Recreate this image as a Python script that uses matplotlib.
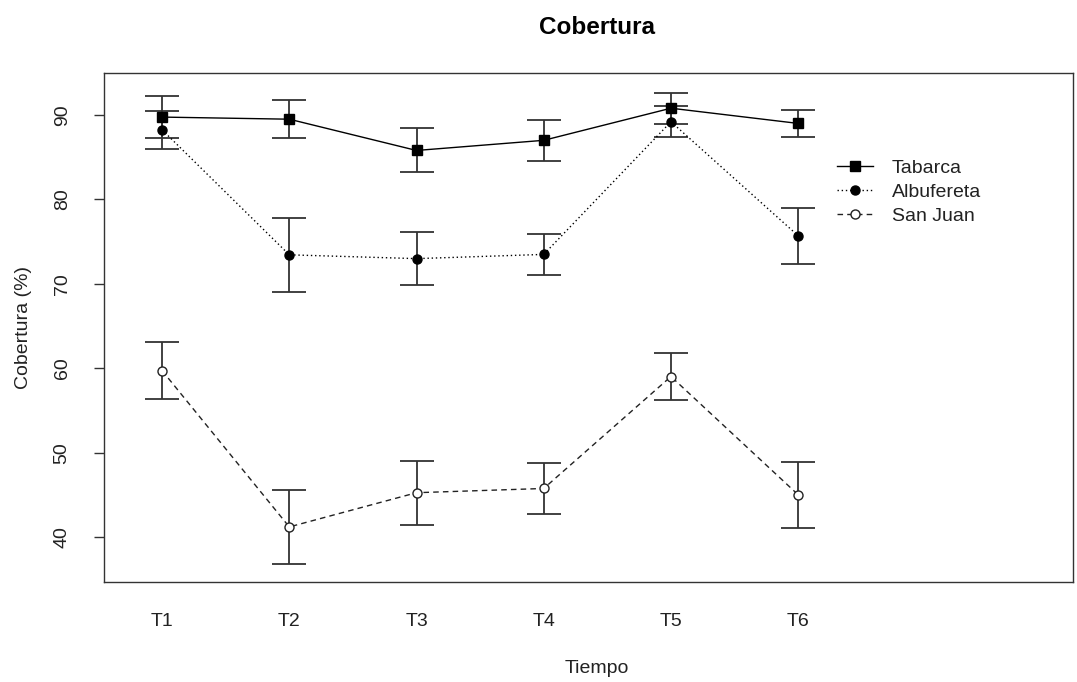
import numpy as np
import matplotlib.pyplot as plt

tiempos = ["T1", "T2", "T3", "T4", "T5", "T6"]

tabarca = [89.75, 89.5, 85.8, 87.0, 90.8, 89.0]
tabarca_err = [2.5, 2.25, 2.6, 2.4, 1.85, 1.6]

albufereta = [88.25, 73.45, 73.0, 73.5, 89.2, 75.7]
albufereta_err = [2.25, 4.35, 3.1, 2.45, 1.85, 3.3]

san_juan = [59.75, 41.25, 45.3, 45.8, 59.05, 45.05]
san_juan_err = [3.35, 4.4, 3.8, 3.0, 2.75, 3.9]

txt = "#222222"
plt.rcParams["font.family"] = ["Liberation Sans", "DejaVu Sans"]

fig = plt.figure(figsize=(10.77, 6.82), dpi=100)
ax = fig.add_axes([0.0966, 0.1466, 0.8997, 0.7464])

x = np.arange(1, len(tiempos) + 1)

# barras de error primero, en gris oscuro
for vals, errs in [(tabarca, tabarca_err), (albufereta, albufereta_err), (san_juan, san_juan_err)]:
    ax.errorbar(x, vals, yerr=errs, fmt="none", ecolor="#333333", elinewidth=1.3,
                capsize=12.5, capthick=1.3, zorder=2)

ax.plot(x, tabarca, color="black", lw=1, ls="-", marker="s", ms=7.5,
        mfc="black", mec="black", label="Tabarca", zorder=3)
ax.plot(x, albufereta, color="black", lw=1, ls=(0, (1, 2)), marker="o", ms=6.5,
        mfc="black", mec="black", label="Albufereta", zorder=3)
ax.plot(x, san_juan, color="#222222", lw=1, ls=(0, (4, 3)), marker="o", ms=6.5,
        mfc="white", mec="#222222", mew=1, label="San Juan", zorder=3)

ax.set_xlim(0.544, 8.16)
ax.set_ylim(34.73, 94.97)
ax.set_yticks([40, 50, 60, 70, 80, 90])
ax.set_xticks(x)
ax.set_xticklabels(tiempos)

ax.tick_params(axis="y", direction="out", length=7, width=1, colors="#333333",
               labelcolor=txt, labelsize=14, pad=17)
ax.tick_params(axis="x", length=0, labelcolor=txt, labelsize=14, pad=22)
for lbl in ax.get_yticklabels():
    lbl.set_rotation(90)
    lbl.set_va("center")

for s in ax.spines.values():
    s.set_color("#333333")
    s.set_linewidth(1)

ax.set_xlabel("Tiempo", fontsize=14, color=txt)
ax.xaxis.set_label_coords((597 - 104) / 969, (582 - 668) / 509)
ax.xaxis.label.set_va("center")
ax.set_ylabel("Cobertura (%)", fontsize=14, color=txt)
ax.yaxis.set_label_coords((23 - 104) / 969, 0.5)
ax.yaxis.label.set_va("center")

fig.text(597 / 1077, 1 - 27 / 682, "Cobertura", fontsize=17.5, fontweight="bold",
         color="black", ha="center", va="center")

ax.legend(loc="upper left", bbox_to_anchor=(0.756, 0.83), frameon=False,
          fontsize=14, handlelength=1.85, handletextpad=1.0, labelspacing=0.32,
          borderpad=0, borderaxespad=0, labelcolor=txt)

plt.savefig("out.png", dpi=100)
